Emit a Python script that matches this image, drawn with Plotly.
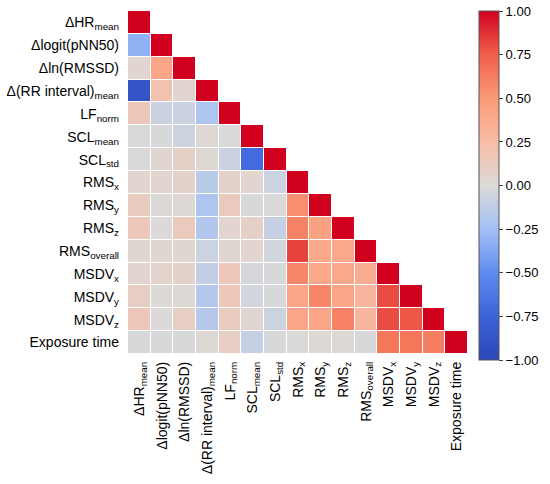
import plotly.graph_objects as go

labels = ["ΔHR<sub>mean</sub>", "Δlogit(pNN50)", "Δln(RMSSD)", "Δ(RR interval)<sub>mean</sub>",
          "LF<sub>norm</sub>", "SCL<sub>mean</sub>", "SCL<sub>std</sub>",
          "RMS<sub>x</sub>", "RMS<sub>y</sub>", "RMS<sub>z</sub>", "RMS<sub>overall</sub>",
          "MSDV<sub>x</sub>", "MSDV<sub>y</sub>", "MSDV<sub>z</sub>", "Exposure time"]

# lower triangle of the correlation matrix, row by row (diagonal included)
row_hr = [1.0]
row_pnn = [-0.32, 1.0]
row_rmssd = [0.04, 0.42, 1.0]
row_rr = [-0.88, 0.2, 0.04, 1.0]
row_lf = [0.15, -0.08, -0.08, -0.2, 1.0]
row_sclm = [-0.01, -0.02, -0.06, 0.02, -0.01, 1.0]
row_scls = [-0.01, 0.03, 0.08, 0.02, -0.08, -0.7, 1.0]
row_rmsx = [0.05, 0.05, 0.07, -0.15, 0.07, 0.05, -0.07, 1.0]
row_rmsy = [0.12, 0.0, 0.02, -0.2, 0.13, -0.02, -0.01, 0.55, 1.0]
row_rmsz = [0.15, 0.0, 0.13, -0.18, 0.05, 0.08, -0.1, 0.6, 0.45, 1.0]
row_rmso = [0.03, 0.03, 0.03, -0.07, 0.03, 0.05, -0.05, 0.82, 0.4, 0.4, 1.0]
row_msdvx = [0.05, 0.06, 0.07, -0.12, 0.15, -0.03, -0.02, 0.58, 0.4, 0.4, 0.37, 1.0]
row_msdvy = [0.1, 0.0, 0.02, -0.17, 0.15, -0.04, -0.02, 0.42, 0.58, 0.42, 0.3, 0.8, 1.0]
row_msdvz = [0.15, 0.0, 0.1, -0.17, 0.12, 0.03, -0.07, 0.42, 0.42, 0.6, 0.3, 0.8, 0.77, 1.0]
row_exp = [-0.02, -0.02, -0.02, 0.02, 0.1, -0.1, -0.02, 0.0, 0.02, 0.02, -0.02, 0.65, 0.65, 0.62, 1.0]

rows = [row_hr, row_pnn, row_rmssd, row_rr, row_lf, row_sclm, row_scls, row_rmsx,
        row_rmsy, row_rmsz, row_rmso, row_msdvx, row_msdvy, row_msdvz, row_exp]
n = len(labels)
z = [r + [None] * (n - len(r)) for r in rows]

# coolwarm-ish, a bit more saturated like the picture
cscale = [[0.0, "#2c46b8"], [0.125, "#3d62d8"], [0.25, "#5f8cf0"], [0.375, "#a3c0f5"],
          [0.5, "#dcdad8"], [0.625, "#f8bca6"], [0.75, "#fb9a78"], [0.875, "#ef5f4a"],
          [1.0, "#d1001f"]]

fig = go.Figure(go.Heatmap(
    z=z, x=labels, y=labels, zmin=-1, zmax=1, colorscale=cscale,
    xgap=1, ygap=1, hoverongaps=False,
    colorbar=dict(thickness=20, len=349, lenmode="pixels", x=1.032, xanchor="left",
                  y=0.491, yanchor="middle", xpad=0, ypad=0,
                  tickvals=[-1, -0.75, -0.5, -0.25, 0, 0.25, 0.5, 0.75, 1],
                  tickformat=".2f", ticks="outside", ticklen=4, outlinewidth=1,
                  outlinecolor="#555", tickfont=dict(size=13, color="black")),
))

fig.update_xaxes(tickangle=-90, showgrid=False, zeroline=False, ticks="", automargin=False,
                 ticklabelstandoff=4, tickfont=dict(size=14, color="black"))
fig.update_yaxes(autorange="reversed", showgrid=False, zeroline=False, ticks="", automargin=False,
                 ticklabelstandoff=8, tickfont=dict(size=14, color="black"))
fig.update_layout(width=550, height=484, plot_bgcolor="white", paper_bgcolor="white",
                  font=dict(family="Liberation Sans, Arial, sans-serif"),
                  margin=dict(l=128, r=79, t=11, b=130))
# the page body has an 8px default margin, drop it
fig.write_html("out.html", config={"displayModeBar": False},
               post_script="document.body.style.margin='0';")
